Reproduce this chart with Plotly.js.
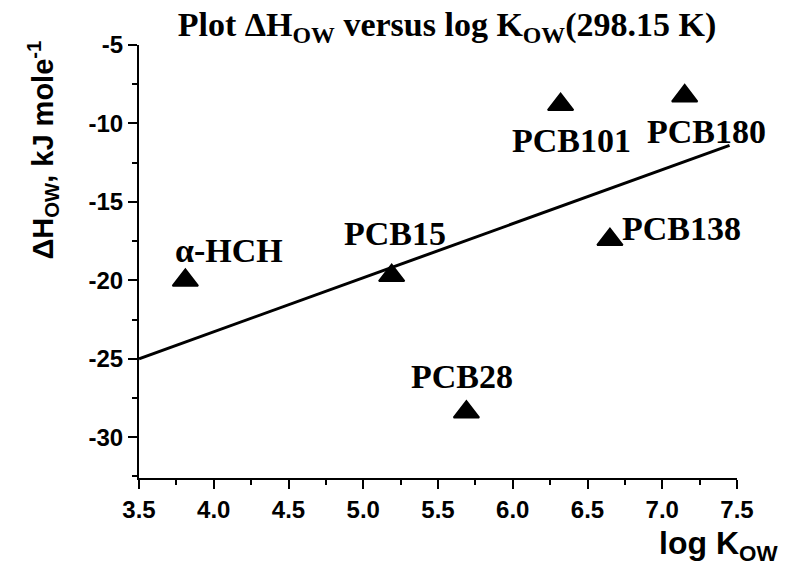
<!DOCTYPE html>
<html>
<head>
<meta charset="utf-8">
<script src="https://cdn.plot.ly/plotly-3.0.1.min.js"></script>
<style>html,body{margin:0;padding:0;background:#fff;}#chart{width:787px;height:571px;}</style>
</head>
<body>
<div id="chart"></div>
<script>
// Data
const compounds = ['α-HCH', 'PCB15', 'PCB28', 'PCB101', 'PCB180', 'PCB138'];
const logKow = [3.81, 5.19, 5.69, 6.32, 7.15, 6.65];
const deltaHow = [-20.0, -19.7, -28.4, -8.8, -8.25, -17.4];
const fitX = [3.5, 7.45];
const fitY = [-25.0, -11.4];
const xTickVals = [3.5, 4.0, 4.5, 5.0, 5.5, 6.0, 6.5, 7.0, 7.5];
const xTickText = ['3.5', '4.0', '4.5', '5.0', '5.5', '6.0', '6.5', '7.0', '7.5'];
const yTickVals = [-30, -25, -20, -15, -10, -5];
const yTickText = ['-30', '-25', '-20', '-15', '-10', '-5'];

// label offsets (pixels) relative to each point
const labelShift = {
  'α-HCH': [44, 30],
  'PCB15': [3, 42],
  'PCB28': [-4, 36],
  'PCB101': [11, -36],
  'PCB180': [22, -36],
  'PCB138': [72, 11]
};

const serif = {family: '"Liberation Serif", "Times New Roman", serif', size: 34, color: '#000', weight: 'bold'};
const sans = '"Liberation Sans", Arial, sans-serif';

const annotations = compounds.map((c, i) => ({
  x: logKow[i], y: deltaHow[i], xref: 'x', yref: 'y',
  text: c, showarrow: false,
  xshift: labelShift[c][0], yshift: labelShift[c][1],
  xanchor: 'center', yanchor: 'middle',
  font: serif
}));

annotations.push({
  xref: 'paper', yref: 'paper', x: -0.16, y: 0.757,
  text: 'ΔH<sub>OW</sub>, kJ mole<sup>-1</sup>', textangle: -90,
  showarrow: false, xanchor: 'center', yanchor: 'middle',
  font: {family: sans, size: 29, color: '#000', weight: 'bold'}
});
annotations.push({
  xref: 'paper', yref: 'paper', x: 1.072, y: -0.155,
  text: 'log K<sub>OW</sub>', showarrow: false,
  xanchor: 'right', yanchor: 'middle',
  font: {family: sans, size: 32, color: '#000', weight: 'bold'}
});

const traces = [
  {
    x: fitX, y: fitY, type: 'scatter', mode: 'lines',
    line: {color: '#000', width: 3}, hoverinfo: 'skip'
  },
  {
    x: logKow, y: deltaHow, type: 'scatter', mode: 'markers',
    marker: {symbol: 'triangle-up', size: 22, color: '#000', line: {color: '#000', width: 2}}
  }
];

const layout = {
  width: 787, height: 571,
  margin: {l: 139, r: 50, t: 45, b: 93},
  paper_bgcolor: '#fff', plot_bgcolor: '#fff',
  showlegend: false,
  title: {
    text: 'Plot ΔH<sub>OW</sub> versus log K<sub>OW</sub>(298.15 K)',
    x: 447 / 787, xanchor: 'center', xref: 'container',
    y: 1 - 24 / 571, yanchor: 'middle', yref: 'container',
    font: {family: serif.family, size: 34, color: '#000', weight: 'bold'}
  },
  xaxis: {
    range: [3.5, 7.5], tickmode: 'array', tickvals: xTickVals, ticktext: xTickText,
    showline: true, linecolor: '#000', linewidth: 2, mirror: false,
    ticks: 'outside', ticklen: 9, tickwidth: 2, tickcolor: '#000',
    minor: {ticks: 'outside', ticklen: 5, tickwidth: 2, tickcolor: '#000', dtick: 0.25, tick0: 3.5, tickmode: 'linear'},
    showgrid: false, zeroline: false,
    tickfont: {family: sans, size: 24, color: '#000', weight: 'bold'}
  },
  yaxis: {
    range: [-32.6, -5], tickmode: 'array', tickvals: yTickVals, ticktext: yTickText,
    showline: true, linecolor: '#000', linewidth: 2, mirror: false,
    ticks: 'outside', ticklen: 9, tickwidth: 2, tickcolor: '#000',
    minor: {ticks: 'outside', ticklen: 5, tickwidth: 2, tickcolor: '#000', dtick: 2.5, tick0: -5, tickmode: 'linear'},
    showgrid: false, zeroline: false,
    tickfont: {family: sans, size: 24, color: '#000', weight: 'bold'}
  },
  annotations: annotations
};

Plotly.newPlot('chart', traces, layout, {displayModeBar: false, staticPlot: true});
</script>
</body>
</html>
